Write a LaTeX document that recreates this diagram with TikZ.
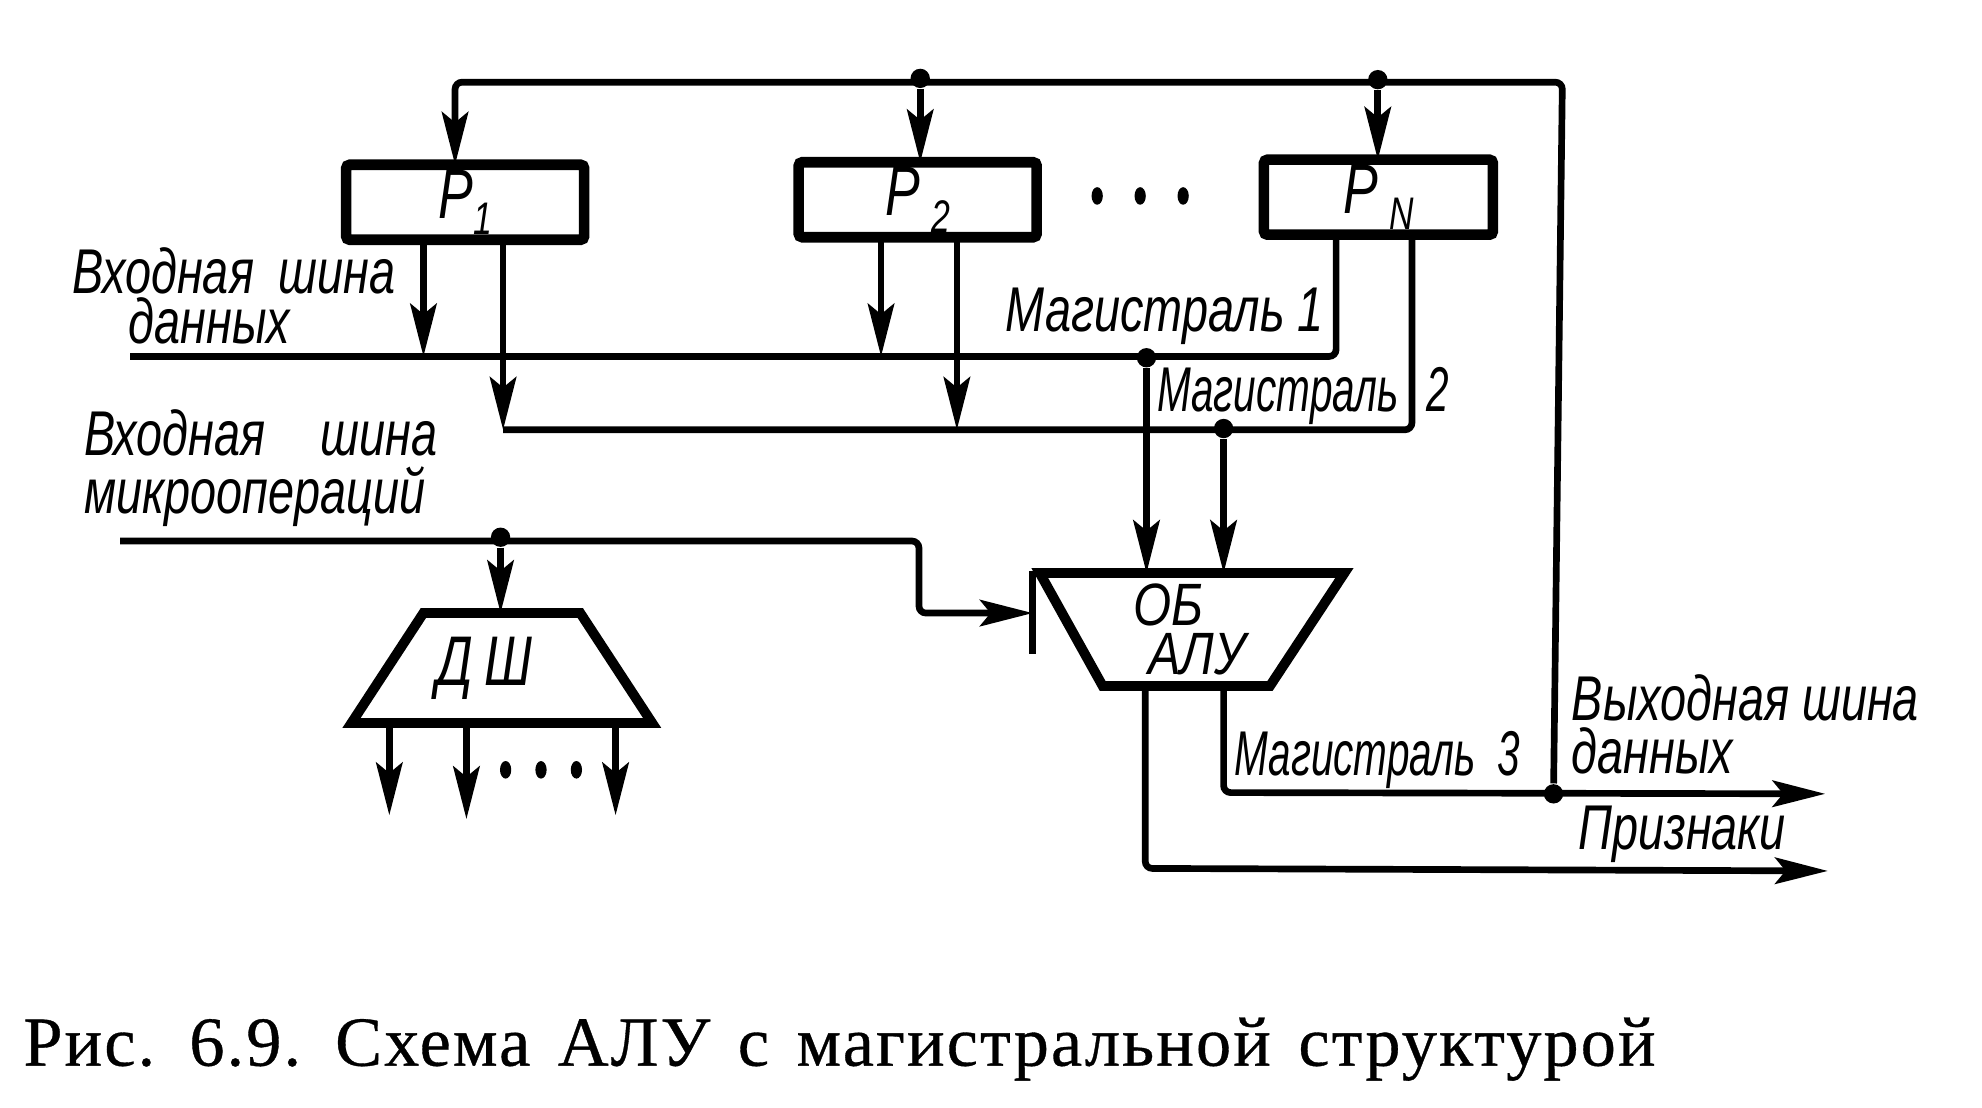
\documentclass[tikz,border=0pt]{standalone}
\usepackage{fontspec}
\usetikzlibrary{shapes.geometric,arrows.meta}
\setmainfont{Liberation Serif}
\newfontfamily\lablat[FakeStretch=0.74]{Liberation Sans Italic}
\newfontfamily\labwid[FakeStretch=0.82]{Liberation Sans Italic}
\newfontfamily\labnar[FakeStretch=0.64]{Liberation Sans Italic}
\newfontfamily\capfont[LetterSpace=3,WordSpace=1.4,FakeBold=0.5]{Liberation Serif}
\newcommand{\lowsub}[1]{\raisebox{-0.45ex}{\fontsize{13}{13}\selectfont #1}}

\begin{document}
\begin{tikzpicture}[x=0.1264mm, y=-0.1264mm,
    bus/.style={line width=1.9pt, rounded corners=2pt},
    arr/.style={bus, -{Stealth[length=15pt, width=7.5pt, inset=3pt]}},
    reg/.style={rectangle, draw, line width=3pt, inner sep=0pt,
        minimum width=2.38cm, minimum height=0.75cm, outer sep=0pt,
        rounded corners=1pt, font=\fontsize{20}{20}\selectfont\lablat},
    trap/.style={trapezium, draw, line width=2.8pt, inner sep=0pt, outer sep=0pt,
        trapezium stretches=true, align=center},
    junc/.style={circle, fill=black, inner sep=0pt, minimum size=5.5pt},
    ell/.style={ellipse, fill=black, inner sep=0pt, minimum width=3.2pt, minimum height=5pt},
    lab/.style={anchor=west, inner sep=0pt, align=left,
        font=\fontsize{18}{15}\selectfont\lablat},
    labn/.style={anchor=west, inner sep=0pt, align=left,
        font=\fontsize{18}{15}\selectfont\labnar}
]
    \useasboundingbox (0,0) rectangle (1568,876);

    \node[reg] (P1) at (368,160) {P\lowsub{1}};
    \node[reg] (P2) at (726,158) {P\,\lowsub{2}};
    \node[reg, minimum width=2.29cm] (PN) at (1090.5,156) {P\,\lowsub{N}};

    \node[ell] (d1) at (868,155) {};
    \node[ell] (d2) at (902,155) {};
    \node[ell] (d3) at (936,155) {};

    \coordinate (topL) at (360,65);
    \coordinate (topR) at (1236,65);
    \node[junc] (J2) at (728,62) {};
    \node[junc] (JN) at (1090,63) {};
    \node[junc] (Jo) at (1229,628) {};

    \draw[arr] (Jo) -- (topR) -- (topL) -- (topL |- P1.north);
    \draw[arr] (J2) -- (J2 |- P2.north);
    \draw[arr] (JN) -- (JN |- PN.north);

    \coordinate (inD) at (103,282);
    \coordinate (a1) at (335,282);
    \coordinate (a2) at (697,282);
    \coordinate (r1) at (1057,282);
    \coordinate (b1) at (398,340);
    \coordinate (b2) at (757,340);
    \coordinate (r2) at (1117,340);
    \node[junc] (J3) at (907,283) {};
    \node[junc] (J4) at (968,339) {};

    \draw[bus] (inD) -- (r1) -- (r1 |- PN.south);
    \draw[bus] (b1) -- (r2) -- (r2 |- PN.south);
    \draw[arr] (a1 |- P1.south) -- (a1);
    \draw[arr] (b1 |- P1.south) -- (b1);
    \draw[arr] (a2 |- P2.south) -- (a2);
    \draw[arr] (b2 |- P2.south) -- (b2);

    \node[trap, shape border rotate=180, trapezium left angle=60, trapezium right angle=64,
        minimum width=3.06cm, minimum height=1.13cm, font=\fontsize{17}{14}\selectfont\labwid]
        (alu) at (938.5,498) {ОБ\hspace*{10pt}\\\hspace*{6pt}АЛУ};
    \node[trap, trapezium left angle=46, trapezium right angle=46,
        minimum width=3.02cm, minimum height=1.1cm, font=\fontsize{20}{20}\selectfont\lablat]
        (dec) at (397,528.5) {Д\,Ш\hspace*{10pt}};

    \draw[arr] (J3) -- (J3 |- alu.north);
    \draw[arr] (J4) -- (J4 |- alu.north);

    \coordinate (inM) at (95,428);
    \coordinate (m1) at (727,428);
    \coordinate (m2) at (727,485);
    \coordinate (tT) at (817,452);
    \coordinate (tB) at (817,517);
    \node[junc] (J5) at (396,425) {};

    \draw[bus] (tT) -- (tB);
    \draw[arr] (inM) -- (m1) -- (m2) -- (m2 -| tB);
    \draw[arr] (J5) -- (J5 |- dec.north);

    \coordinate (o1) at (308,645);
    \coordinate (o2) at (369,648);
    \coordinate (o3) at (487,645);
    \draw[arr] (o1 |- dec.south) -- (o1);
    \draw[arr] (o2 |- dec.south) -- (o2);
    \draw[arr] (o3 |- dec.south) -- (o3);
    \node[ell] (d4) at (400,609) {};
    \node[ell] (d5) at (428,609) {};
    \node[ell] (d6) at (456,609) {};

    \coordinate (f1) at (906,687);
    \coordinate (f2) at (968,627);
    \coordinate (outF) at (1446,689);
    \coordinate (outD) at (1444,628);
    \draw[arr] (f2 |- alu.south) -- (f2) -- (outD);
    \draw[arr] (f1 |- alu.south) -- (f1) -- (outF);

    \node[lab] (l1) at (57,234) {Входная\hspace*{7pt}шина\\[-1pt]\hspace*{16pt}данных};
    \node[lab] (l2) at (66,370) {Входная\hspace*{12pt} шина\\[1.5pt]микроопераций};
    \node[lab] (l3) at (795,250) {Магистраль 1};
    \node[labn] (l4) at (915,313) {Магистраль\hspace*{8pt}2};
    \node[labn] (l5) at (976,601) {Магистраль\hspace*{3pt} 3};
    \node[lab] (l6) at (1243,573) {Выходная шина\\данных};
    \node[lab] (l7) at (1248,660) {Признаки};

    \node[font=\fontsize{20}{20}\selectfont\capfont, anchor=west, inner sep=0pt] (cap) at (18,830)
        {Рис. 6.9. Схема АЛУ с магистральной структурой};
\end{tikzpicture}
\end{document}
